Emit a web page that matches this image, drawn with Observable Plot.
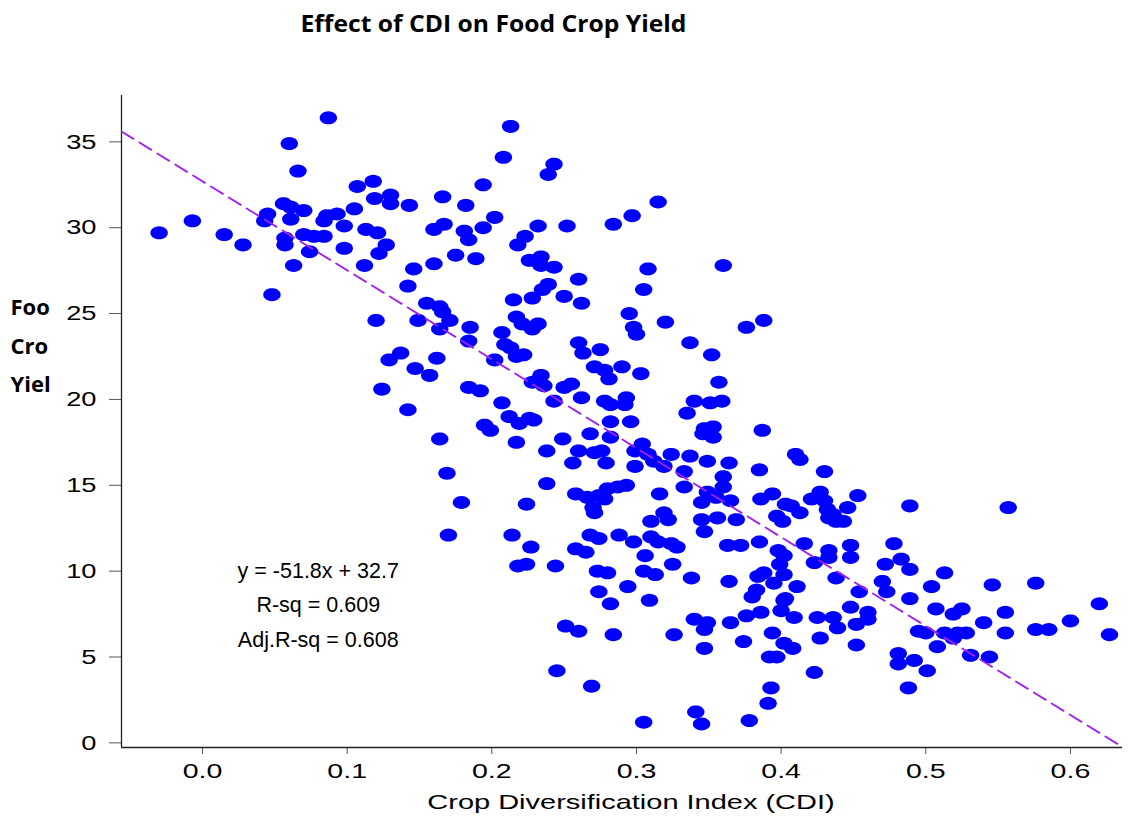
<!DOCTYPE html>
<html>
<head>
<meta charset="utf-8">
<script src="https://cdn.jsdelivr.net/npm/d3@7"></script>
<script src="https://cdn.jsdelivr.net/npm/@observablehq/plot@0.6"></script>
<style>
  html, body { margin: 0; padding: 0; background: #fff; }
  #chart { width: 1134px; height: 818px; }
</style>
</head>
<body>
<div id="chart"></div>
<script>
// ---- data ----
const cdi = [
  -0.030,-0.007,0.015,0.028,0.045,0.043,0.048,0.060,0.066,0.087,
  0.056,0.061,0.070,0.061,0.086,0.093,0.084,0.098,0.113,0.121,
  0.057,0.057,0.070,0.077,0.084,0.074,0.098,0.063,0.112,0.122,
  0.107,0.118,0.119,0.105,
  0.213,0.208,0.243,0.239,0.194,0.166,0.130,0.130,0.143,0.182,
  0.202,0.232,0.252,0.284,0.167,0.160,0.181,0.184,0.194,0.223,
  0.218,0.127,0.175,0.189,0.160,0.146,0.142,0.226,0.234,0.234,
  0.243,0.260,0.239,0.235,0.228,0.215,0.250,0.262,0.155,0.164,
  0.166,0.120,0.149,0.171,0.164,0.137,0.129,0.147,0.162,0.157,
  0.124,0.142,0.164,0.169,0.179,0.170,
  0.305,0.297,0.315,0.308,0.360,
  0.185,0.217,0.221,0.232,0.228,0.207,0.295,0.298,0.300,0.320,
  0.376,0.388,0.184,0.209,0.213,0.217,0.222,0.202,0.260,0.263,
  0.275,0.337,0.352,0.271,0.278,0.281,0.290,0.303,0.234,0.228,
  0.236,0.357,0.184,0.192,0.250,0.255,0.207,0.243,0.262,0.278,
  0.282,0.293,0.292,0.340,0.351,0.359,0.335,0.212,0.219,0.226,
  0.229,0.195,0.199,0.282,0.296,0.347,0.353,0.346,0.353,0.387,
  0.217,0.249,0.268,0.282,0.238,0.260,0.271,0.276,0.304,0.299,
  0.308,0.256,0.279,0.299,0.312,0.324,0.337,0.349,0.364,0.319,
  0.333,0.385,0.238,0.333,0.360,0.360,0.316,0.258,0.266,0.280,
  0.287,0.293,0.274,0.278,0.270,0.271,0.349,0.355,0.345,0.365,
  0.386,0.394,0.403,0.224,0.319,0.322,0.310,0.345,0.356,0.369,
  0.397,0.401,0.214,0.268,0.274,0.288,0.298,0.310,0.315,0.324,
  0.347,0.363,0.372,0.385,0.227,0.258,
  0.218,0.224,0.244,0.265,0.328,0.306,0.325,0.273,0.280,0.305,
  0.313,0.338,0.364,0.294,0.274,0.309,0.282,0.251,0.260,0.284,
  0.326,0.245,0.269,0.305,0.341,0.345,0.378,0.340,0.349,0.347,
  0.347,0.365,0.376,0.386,0.374,0.394,0.392,0.397,0.393,0.391,
  0.402,0.384,0.388,0.395,0.383,0.380,0.399,0.398,0.402,0.402,0.402,0.400,
  0.410,0.413,0.430,0.407,0.413,0.421,0.427,0.430,0.432,0.436,
  0.433,0.438,0.443,0.446,0.453,0.489,0.557,0.416,0.433,0.433,
  0.423,0.448,0.448,0.478,0.483,0.472,0.489,0.438,0.411,0.403,
  0.409,0.425,0.436,0.448,0.460,0.460,0.439,0.452,0.454,0.470,
  0.473,0.489,0.504,0.513,0.507,0.519,0.525,0.540,0.555,0.546,
  0.576,0.620,0.600,0.576,0.585,0.555,0.627,0.495,0.500,0.513,
  0.522,0.528,0.519,0.508,0.531,0.544,0.481,0.481,0.492,0.501,
  0.488,0.408,0.427,0.452,0.423
];
const foodYield = [
  29.7,30.4,29.6,29.0,30.8,30.4,26.1,34.9,33.3,36.4,
  31.4,31.2,31.0,30.5,30.7,30.8,30.4,30.1,29.9,29.7,
  29.4,29.0,29.6,29.5,29.5,28.6,28.8,27.8,27.8,28.5,
  32.4,32.7,31.7,31.1,
  35.9,34.1,33.7,33.1,32.5,31.8,31.9,31.4,31.3,31.3,
  30.6,30.1,30.1,30.2,30.2,29.9,29.8,29.3,30.0,29.5,
  29.0,29.0,28.4,28.2,27.9,27.6,26.6,28.1,28.3,27.8,
  27.7,27.0,26.7,26.4,25.9,25.8,26.0,25.6,25.6,25.4,
  25.1,24.6,24.6,24.6,24.1,22.7,22.3,21.8,22.4,21.4,
  20.6,19.4,17.7,15.7,14.0,12.1,
  26.4,30.7,31.5,27.6,27.8,
  24.2,24.8,24.4,24.4,24.1,23.9,25.0,24.2,23.8,24.5,
  24.2,24.6,23.4,23.2,23.0,22.5,22.6,22.3,23.3,22.7,
  22.9,23.3,22.6,21.9,21.7,21.2,21.9,21.5,21.4,21.0,
  20.8,21.0,20.7,20.5,20.7,20.9,19.8,19.9,20.1,19.9,
  19.7,20.1,19.7,19.9,19.8,19.9,19.2,19.0,18.6,18.9,
  18.8,18.5,18.2,18.7,18.7,18.3,18.4,18.0,17.8,18.2,
  17.5,17.7,18.0,17.8,17.0,17.0,16.9,17.0,17.4,17.0,
  16.8,16.3,16.3,16.1,16.4,16.8,16.7,16.4,16.3,16.1,
  15.8,15.9,15.1,14.9,15.5,14.9,14.5,14.5,14.3,14.8,
  14.9,15.0,14.4,14.2,13.7,13.4,14.6,14.3,14.0,14.1,
  14.2,14.5,13.9,13.9,13.4,13.0,12.9,13.0,13.1,13.0,
  13.2,12.9,12.1,12.1,11.9,12.1,11.7,12.0,11.7,11.6,
  12.3,11.5,11.5,11.7,11.4,11.3,
  10.3,10.4,10.3,11.1,11.4,10.9,10.4,10.0,9.9,10.0,
  9.8,9.6,9.4,9.1,8.8,8.3,8.1,6.8,6.5,6.3,
  6.3,4.2,3.3,1.2,1.8,1.1,1.3,7.2,7.0,6.6,
  5.5,7.0,7.4,7.6,5.9,6.4,5.0,5.0,3.2,2.3,
  5.8,9.7,9.9,9.3,8.9,8.5,10.4,11.2,10.9,9.8,8.3,7.7,
  16.8,16.5,15.8,13.8,13.4,14.2,14.6,14.1,13.6,13.3,
  13.1,12.9,12.9,13.7,14.4,13.8,13.7,11.6,11.2,10.8,
  10.5,11.5,10.8,11.6,10.7,10.4,10.1,9.6,9.1,8.4,
  7.3,7.3,7.3,7.9,7.6,7.2,6.7,6.9,8.8,9.4,
  8.8,8.4,9.1,9.9,7.8,7.5,7.8,7.0,7.6,9.2,
  9.3,8.1,7.1,6.6,6.6,6.4,6.3,6.5,6.4,6.4,
  6.4,6.4,6.1,5.6,5.1,5.0,5.2,4.6,4.8,4.2,
  3.2,5.5,6.1,5.7,4.1
];
const xTicks = [0, 0.1, 0.2, 0.3, 0.4, 0.5, 0.6];
const yTicks = [0, 5, 10, 15, 20, 25, 30, 35];
const fitSlope = -51.8;
const fitIntercept = 32.7;
const statLines = ["y = -51.8x + 32.7", "R-sq = 0.609", "Adj.R-sq = 0.608"];
const statX = [0.08, 0.08, 0.08];
const statY = [10, 8, 6];
const titleText = "Effect of CDI on Food Crop Yield";
const xTitle = "Crop Diversification Index (CDI)";
const yTitle = "Foo\nCro\nYiel";

// ---- derived tables ----
const xDomain = [-0.056, 0.636];
const yDomain = [-0.27, 37.7];
const points = cdi.map((x, i) => ({x, y: foodYield[i]}));
const fitLine = [xDomain[0], xDomain[1]].map(x => ({x, y: fitIntercept + fitSlope * x}));
const stats = statLines.map((t, i) => ({t, x: statX[i], y: statY[i]}));

const ellipse = {
  draw(ctx) {
    const rx = 8.7, ry = 6.5, n = 28;
    for (let i = 0; i < n; i++) {
      const a = 2 * Math.PI * i / n;
      const px = rx * Math.cos(a), py = ry * Math.sin(a);
      if (i === 0) ctx.moveTo(px, py); else ctx.lineTo(px, py);
    }
    ctx.closePath();
  }
};

const chart = Plot.plot({
  width: 1134,
  height: 818,
  marginTop: 95,
  marginRight: 12,
  marginBottom: 71,
  marginLeft: 121,
  style: {fontFamily: "'Liberation Sans', Arial, sans-serif", background: "#fff", color: "#000"},
  x: {domain: xDomain},
  y: {domain: yDomain},
  marks: [
    Plot.axisX({ticks: xTicks, tickFormat: d3.format(".1f"), tickSize: 7, tickPadding: 9, fontSize: 21, label: null, stroke: "#555", fill: "#000"}),
    Plot.axisY({ticks: yTicks, tickSize: 12, tickPadding: 13, fontSize: 21, label: null, stroke: "#555", fill: "#000"}),
    Plot.ruleX([xDomain[0]], {stroke: "#222", strokeWidth: 1.3}),
    Plot.ruleY([yDomain[0]], {stroke: "#222", strokeWidth: 1.3}),
    Plot.dot(points, {x: "x", y: "y", symbol: ellipse, fill: "#0000FF", stroke: "none"}),
    Plot.line(fitLine, {x: "x", y: "y", stroke: "#A020F0", strokeWidth: 1.8, strokeDasharray: "14,7", clip: true}),
    Plot.text(stats, {x: "x", y: "y", text: "t", fontSize: 21.5, fill: "#000", textAnchor: "middle"}),
    Plot.text([xTitle], {frameAnchor: "bottom", dx: 9, dy: 61, fontSize: 21, fill: "#000"}),
    Plot.text([titleText], {frameAnchor: "top", dx: -128.5, dy: -80, fontSize: 23, fontWeight: "bold", fontFamily: "'Open Sans', sans-serif", fill: "#000"}),
    Plot.text([yTitle], {frameAnchor: "left", dx: -111, dy: -80, textAnchor: "start", lineHeight: 1.75, fontSize: 22, fontWeight: "bold", fontFamily: "'Open Sans', sans-serif", fill: "#000"})
  ]
});
document.getElementById("chart").appendChild(chart);

// horizontal stretch of the axis texts, as in the reference
function stretch(selection, s) {
  selection.each(function () {
    const t = this.getAttribute("transform");
    if (t) {
      this.setAttribute("transform", t + ` scale(${s},1)`);
    } else {
      const x = +this.getAttribute("x") || 0, y = +this.getAttribute("y") || 0;
      this.removeAttribute("x"); this.removeAttribute("y");
      this.setAttribute("transform", `translate(${x},${y}) scale(${s},1)`);
    }
  });
}
const svg = d3.select(chart);
const byText = s => svg.selectAll("text").filter(function () { return this.textContent === s; });
stretch(svg.selectAll('g[aria-label="x-axis tick label"] text'), 1.36);
stretch(svg.selectAll('g[aria-label="y-axis tick label"] text'), 1.3);
stretch(byText(xTitle), 1.38);
byText(titleText).attr("textLength", 386).attr("lengthAdjust", "spacingAndGlyphs");
</script>
</body>
</html>
